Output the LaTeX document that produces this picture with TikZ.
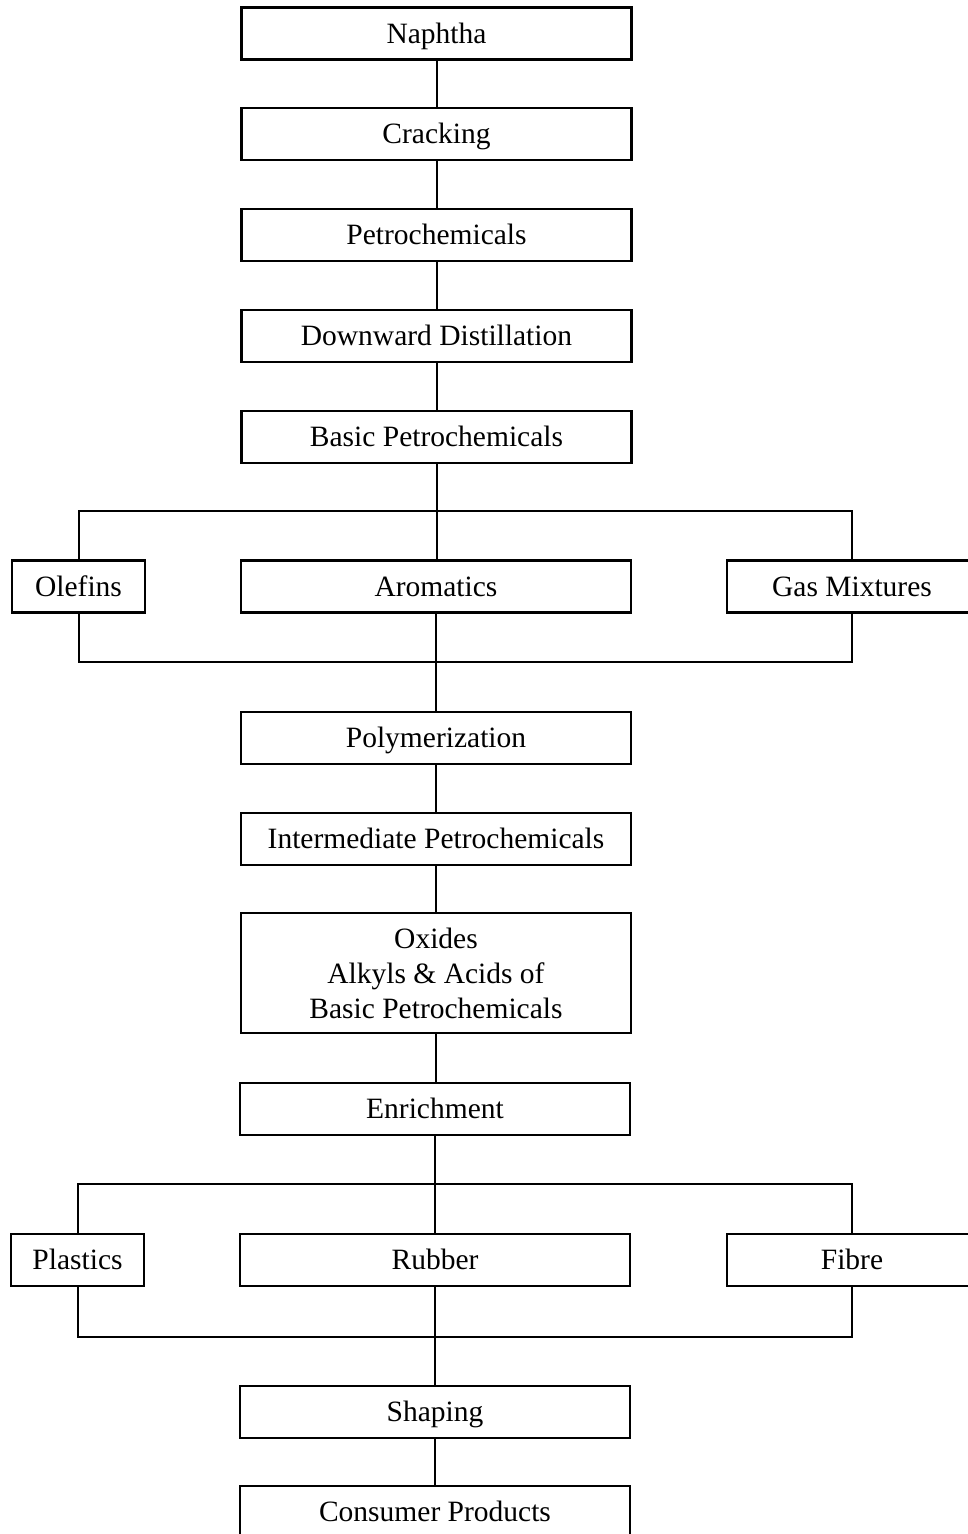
\documentclass[tikz,border=0pt]{standalone}
\usepackage{fontspec}
\setmainfont{Liberation Serif}
\begin{document}
\begin{tikzpicture}[
        x=1pt, y=-1pt,
        block/.style={draw, line width=2.6pt, minimum width=390pt, minimum height=52pt,
          inner sep=0pt, align=center, font=\fontsize{29.5}{35}\selectfont},
        stage/.style={block, text height=22pt, text depth=2.5pt},
        side/.style={stage, minimum width=133pt},
        wide/.style={stage, minimum width=250pt},
        link/.style={draw, line width=2pt},
      ]
      \useasboundingbox (0,0) rectangle (967,1534);
      % main chain
      \node[stage] (naphtha) at (436.5,33.5) {Naphtha};
      \node[stage] (cracking) at (436.5,134) {Cracking};
      \node[stage] (petro) at (436.5,235) {Petrochemicals};
      \node[stage] (distill) at (436.5,336) {Downward Distillation};
      \node[stage] (basic) at (436.5,437) {Basic Petrochemicals};
      \node[side] (olefins) at (78.5,586.5) {Olefins};
      \node[stage] (aromatics) at (436,586.5) {Aromatics};
      \node[wide] (gas) at (852,586.5) {Gas Mixtures};
      \node[stage] (poly) at (436,738) {Polymerization};
      \node[stage] (inter) at (436,839) {Intermediate Petrochemicals};
      \node[block, minimum height=120pt] (oxides) at (436,973)
        {Oxides\\Alkyls \& Acids of\\Basic Petrochemicals};
      \node[stage] (enrich) at (435,1109) {Enrichment};
      \node[side] (plastics) at (77.5,1260) {Plastics};
      \node[stage] (rubber) at (435,1260) {Rubber};
      \node[wide] (fibre) at (852,1260) {Fibre};
      \node[stage] (shaping) at (435,1412) {Shaping};
      \node[stage] (consumer) at (435,1512) {Consumer Products};
      % brackets
      \coordinate (top1) at (436,511);
      \coordinate (bot1) at (436,662);
      \coordinate (top2) at (435,1184);
      \coordinate (bot2) at (435,1337);
      \foreach \a/\b in {naphtha/cracking, cracking/petro, petro/distill, distill/basic,
          basic/aromatics, aromatics/poly, poly/inter, inter/oxides, oxides/enrich,
          enrich/rubber, rubber/shaping, shaping/consumer}
        {\draw[link] (\a.south) -- (\a.south |- \b.north);}
      \draw[link] (olefins.north) |- (top1) -| (gas.north);
      \draw[link] (olefins.south) |- (bot1) -| (gas.south);
      \draw[link] (plastics.north) |- (top2) -| (fibre.north);
      \draw[link] (plastics.south) |- (bot2) -| (fibre.south);
    \end{tikzpicture}
\end{document}
